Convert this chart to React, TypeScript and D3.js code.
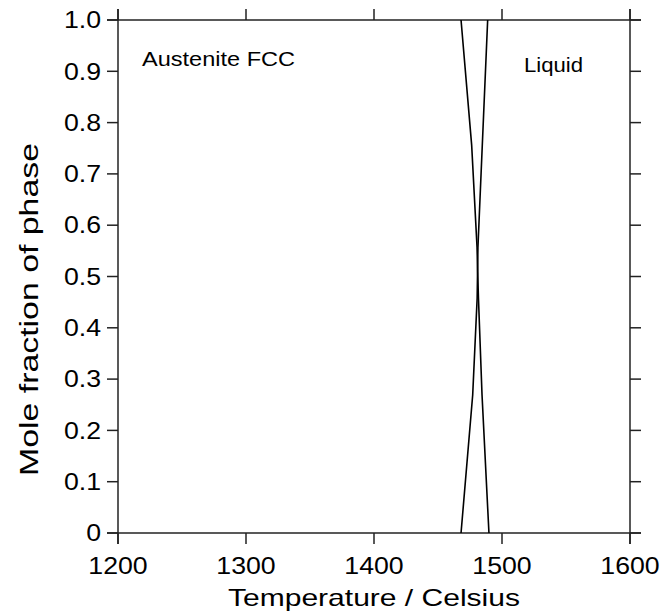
import React from "react";
import * as d3 from "d3";

const austeniteTemps = [1468.0, 1476.3, 1480.5, 1481.0, 1481.6, 1484.4, 1489.8];
const austeniteFrac = [1.0, 0.756, 0.557, 0.509, 0.458, 0.269, 0.0];
const liquidTemps = [1468.0, 1477.1, 1480.6, 1480.9, 1481.2, 1484.6, 1488.8];
const liquidFrac = [0.0, 0.269, 0.458, 0.509, 0.557, 0.756, 1.0];
const xTicks = [1200, 1300, 1400, 1500, 1600];
const yTicks = [0, 0.1, 0.2, 0.3, 0.4, 0.5, 0.6, 0.7, 0.8, 0.9, 1.0];
const phaseLabels = ["Austenite FCC", "Liquid"];

const W = 671, H = 613;
const L = 118, R = 630, T = 20, B = 533;
const FONT = "'Liberation Sans', Arial, Helvetica, sans-serif";
const SX = 1.16;

export default function App() {
  const x = d3.scaleLinear().domain([1200, 1600]).range([L, R]);
  const y = d3.scaleLinear().domain([0, 1]).range([B, T]);
  const line = d3.line<[number, number]>().x(d => x(d[0])).y(d => y(d[1]));
  const aus = austeniteTemps.map((t, i) => [t, austeniteFrac[i]] as [number, number]);
  const liq = liquidTemps.map((t, i) => [t, liquidFrac[i]] as [number, number]);
  const tk = 11;
  const axisColor = "#222";
  return (
    <svg width={W} height={H} style={{ position: "absolute", left: 0, top: 0 }} fontFamily={FONT}>
      <rect width={W} height={H} fill="#fff" />
      <line x1={L - tk} x2={R + tk} y1={B} y2={B} stroke={axisColor} strokeWidth={1.5} />
      <line x1={L - tk} x2={R + tk} y1={T} y2={T} stroke={axisColor} strokeWidth={1.5} />
      <line x1={L} x2={L} y1={T - tk} y2={B + tk} stroke={axisColor} strokeWidth={1.5} />
      <line x1={R} x2={R} y1={T - tk} y2={B + tk} stroke={axisColor} strokeWidth={1.5} />
      {xTicks.map(t => (
        <g key={"x" + t}>
          <line x1={x(t)} x2={x(t)} y1={B} y2={B + tk} stroke={axisColor} strokeWidth={1.5} />
          <line x1={x(t)} x2={x(t)} y1={T} y2={T - tk} stroke={axisColor} strokeWidth={1.5} />
          <text transform={`translate(${x(t)},574) scale(${SX},1)`} textAnchor="middle" fontSize={23} fill="#000">{t}</text>
        </g>
      ))}
      {yTicks.map(t => (
        <g key={"y" + t}>
          <line x1={L} x2={L - tk} y1={y(t)} y2={y(t)} stroke={axisColor} strokeWidth={1.5} />
          <line x1={R} x2={R + tk} y1={y(t)} y2={y(t)} stroke={axisColor} strokeWidth={1.5} />
          <text transform={`translate(101,${y(t) + 8.2}) scale(${SX},1)`} textAnchor="end" fontSize={23} fill="#000">
            {t === 0 ? "0" : t.toFixed(1)}
          </text>
        </g>
      ))}
      <path d={line(aus) || ""} fill="none" stroke="#000" strokeWidth={1.6} />
      <path d={line(liq) || ""} fill="none" stroke="#000" strokeWidth={1.6} />
      <text x={142} y={66} fontSize={20} textLength={153} lengthAdjust="spacingAndGlyphs" fill="#000">{phaseLabels[0]}</text>
      <text x={524} y={72} fontSize={20} textLength={59} lengthAdjust="spacingAndGlyphs" fill="#000">{phaseLabels[1]}</text>
      <text x={228} y={606} fontSize={24} textLength={292} lengthAdjust="spacingAndGlyphs" fill="#000">Temperature / Celsius</text>
      <text transform={`translate(38,476) rotate(-90)`} fontSize={26} textLength={333} lengthAdjust="spacingAndGlyphs" fill="#000">Mole fraction of phase</text>
    </svg>
  );
}
